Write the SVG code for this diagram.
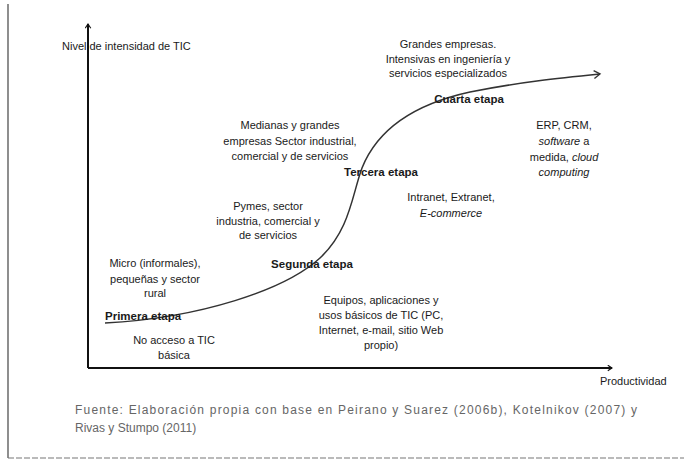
<svg xmlns="http://www.w3.org/2000/svg" width="684" height="470" viewBox="0 0 684 470">
<defs>
<style>
text{font-family:"Liberation Sans",Arial,sans-serif;font-size:11px;fill:#1a1a1a}
.c{text-anchor:middle}
.b{font-weight:bold;font-size:11.5px}
.i{font-style:italic}
.src{font-size:12px;fill:#666}
.axis{stroke:#111;stroke-width:2;fill:none}
.curve{stroke:#333;stroke-width:1.5;fill:none}
.frame{stroke:#444;stroke-width:1.2;fill:none}
</style>
<marker id="ah" viewBox="0 0 10 10" refX="8" refY="5" markerWidth="7" markerHeight="7" orient="auto" markerUnits="userSpaceOnUse">
<path d="M2,1 L8,5 L2,9" fill="none" stroke="#111" stroke-width="1.6"/>
</marker>
<marker id="ah2" viewBox="0 0 10 10" refX="8" refY="5" markerWidth="10" markerHeight="10" orient="auto" markerUnits="userSpaceOnUse">
<path d="M2,1 L8,5 L2,9" fill="none" stroke="#333" stroke-width="1.4"/>
</marker>
</defs>
<rect width="684" height="470" fill="#fff"/>
<g id="frame">
<line class="frame" x1="8" y1="4" x2="8" y2="458"/>
<line x1="8" y1="458" x2="684" y2="458" stroke="#777" stroke-width="1.2" stroke-dasharray="6 2"/>
</g>
<g id="connectors">
<line class="axis" x1="88" y1="368" x2="88" y2="24" marker-end="url(#ah)"/>
<line class="axis" x1="88" y1="368" x2="612" y2="368" marker-end="url(#ah)"/>
<path class="curve" d="M105,323 C200,318 285,290 320,258 C350,230 352,195 362,168 C378,128 415,104 470,92 C520,82 560,78 600,74" marker-end="url(#ah2)"/>
</g>
<g id="axis-y-label"><text x="62" y="50">Nivel de intensidad de TIC</text></g>
<g id="axis-x-label"><text x="600" y="385">Productividad</text></g>
<g id="grandes"><text class="c" x="448" y="48">Grandes empresas.</text><text class="c" x="448" y="63">Intensivas en ingeniería y</text><text class="c" x="448" y="77">servicios especializados</text></g>
<g id="cuarta"><text class="b c" x="469" y="103">Cuarta etapa</text></g>
<g id="medianas"><text class="c" x="290" y="129">Medianas y grandes</text><text class="c" x="290" y="145">empresas Sector industrial,</text><text class="c" x="290" y="160">comercial y de servicios</text></g>
<g id="erp"><text class="c" x="564" y="129">ERP, CRM,</text><text class="c" x="564" y="145"><tspan class="i">software</tspan> a</text><text class="c" x="564" y="161">medida, <tspan class="i">cloud</tspan></text><text class="c i" x="564" y="176">computing</text></g>
<g id="tercera"><text class="b c" x="381" y="176">Tercera etapa</text></g>
<g id="intranet"><text class="c" x="451" y="201">Intranet, Extranet,</text><text class="c i" x="451" y="217">E-commerce</text></g>
<g id="pymes"><text class="c" x="268" y="210">Pymes, sector</text><text class="c" x="268" y="225">industria, comercial y</text><text class="c" x="268" y="239">de servicios</text></g>
<g id="segunda"><text class="b c" x="312" y="268">Segunda etapa</text></g>
<g id="micro"><text class="c" x="155" y="267">Micro (informales),</text><text class="c" x="155" y="283">pequeñas y sector</text><text class="c" x="155" y="297">rural</text></g>
<g id="equipos"><text class="c" x="381" y="304">Equipos, aplicaciones y</text><text class="c" x="381" y="319">usos básicos de TIC (PC,</text><text class="c" x="381" y="334">Internet, e-mail, sitio Web</text><text class="c" x="381" y="349">propio)</text></g>
<g id="primera"><text class="b" x="105" y="320">Primera etapa</text></g>
<g id="noacceso"><text class="c" x="174" y="344">No acceso a TIC</text><text class="c" x="174" y="359">básica</text></g>
<g id="fuente"><text class="src" x="75" y="414" textLength="562" lengthAdjust="spacing">Fuente: Elaboración propia con base en Peirano y Suarez (2006b), Kotelnikov (2007) y</text><text class="src" x="75" y="432">Rivas y Stumpo (2011)</text></g>
</svg>
